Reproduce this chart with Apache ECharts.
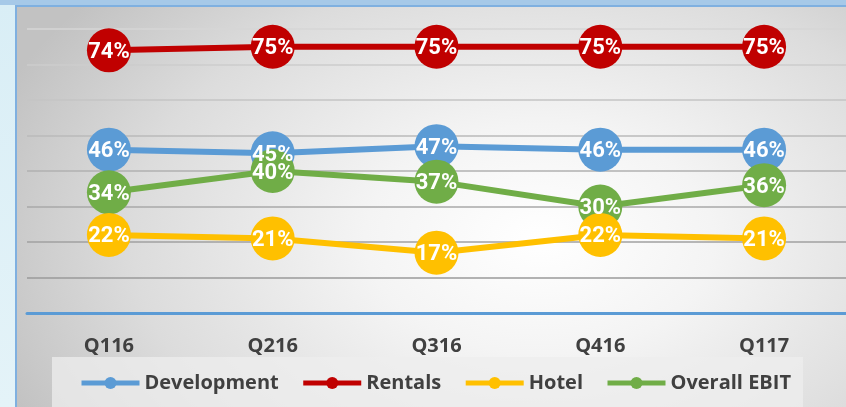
<!DOCTYPE html>
<html>
<head>
<meta charset="utf-8">
<script src="https://cdn.jsdelivr.net/npm/echarts@6/dist/echarts.min.js"></script>
<style>
  html, body { margin: 0; padding: 0; width: 846px; height: 407px; overflow: hidden; }
  body { background: linear-gradient(180deg, #d9eef6 0%, #e4f3f8 100%); position: relative; }
  .topband { position: absolute; left: 0; top: 0; width: 846px; height: 5px; background: #a6c9e8; }
  .frame {
    position: absolute; left: 15px; top: 5px; width: 831px; height: 402px;
    border-left: 2px solid #7fb0e0; border-top: 2px solid #7fb0e0; box-sizing: border-box;
    background: radial-gradient(ellipse 70% 95% at 63% 58%, #ffffff 0%, #f4f4f4 30%, #dcdcdc 70%, #c2c2c2 100%);
  }
  .legendbox {
    position: absolute; left: 52px; top: 357px; width: 751px; height: 50px;
    background: rgba(238, 238, 238, 0.75);
  }
  #chart { position: absolute; left: 0; top: 0; width: 846px; height: 407px; }
</style>
</head>
<body>
<div class="topband"></div>
<div class="frame"></div>
<div class="legendbox"></div>
<div id="chart"></div>
<script>
  // values (%)
  const quarters = ["Q116", "Q216", "Q316", "Q416", "Q117"];
  const development = [46, 45, 47, 46, 46];
  const rentals = [74, 75, 75, 75, 75];
  const hotel = [22, 21, 17, 22, 21];
  const overallEbit = [34, 40, 37, 30, 36];

  const gridColors = ["#9a9a9a", "#9a9a9a", "#a1a1a1", "#a8a8a8", "#b1b1b1", "#bababa", "#c4c4c4", "#cdcdcd", "#d6d6d6"];

  function makeSeries(name, data, color) {
    return {
      name: name,
      type: "line",
      data: data,
      symbol: "circle",
      symbolSize: 44,
      showAllSymbol: true,
      lineStyle: { color: color, width: 6 },
      itemStyle: { color: color },
      label: {
        show: true,
        position: "inside",
        offset: [0, 2],
        formatter: "{c}%",
        color: "#ffffff",
        fontSize: 22,
        fontWeight: "bold",
        fontFamily: "Roboto, sans-serif",
      },
      animation: false,
    };
  }

  const chart = echarts.init(document.getElementById("chart"));
  chart.setOption({
    backgroundColor: "transparent",
    grid: { left: 27, right: 0, top: 29, bottom: 94 },
    xAxis: {
      type: "category",
      data: quarters,
      boundaryGap: true,
      axisLine: { show: true, lineStyle: { color: "#5b9bd5", width: 3 } },
      axisTick: { show: false },
      axisLabel: {
        margin: 23,
        color: "#404040",
        fontSize: 20,
        fontWeight: "bold",
        fontFamily: "'Open Sans', sans-serif",
      },
    },
    yAxis: {
      type: "value",
      min: 0,
      max: 80,
      interval: 10,
      axisLabel: { show: false },
      axisLine: { show: false },
      axisTick: { show: false },
      splitLine: { lineStyle: { color: gridColors, width: 1.5 } },
    },
    legend: {
      data: ["Development", "Rentals", "Hotel", "Overall EBIT"],
      left: 79,
      top: 373,
      padding: 0,
      itemWidth: 58,
      itemHeight: 15,
      itemGap: 22,
      lineStyle: { width: 5 },
      textStyle: {
        color: "#404040",
        fontSize: 20,
        fontWeight: "bold",
        fontFamily: "'Open Sans', sans-serif",
      },
    },
    series: [
      makeSeries("Development", development, "#5b9bd5"),
      makeSeries("Rentals", rentals, "#c00000"),
      makeSeries("Overall EBIT", overallEbit, "#70ad47"),
      makeSeries("Hotel", hotel, "#ffc000"),
    ],
  });
</script>
</body>
</html>
